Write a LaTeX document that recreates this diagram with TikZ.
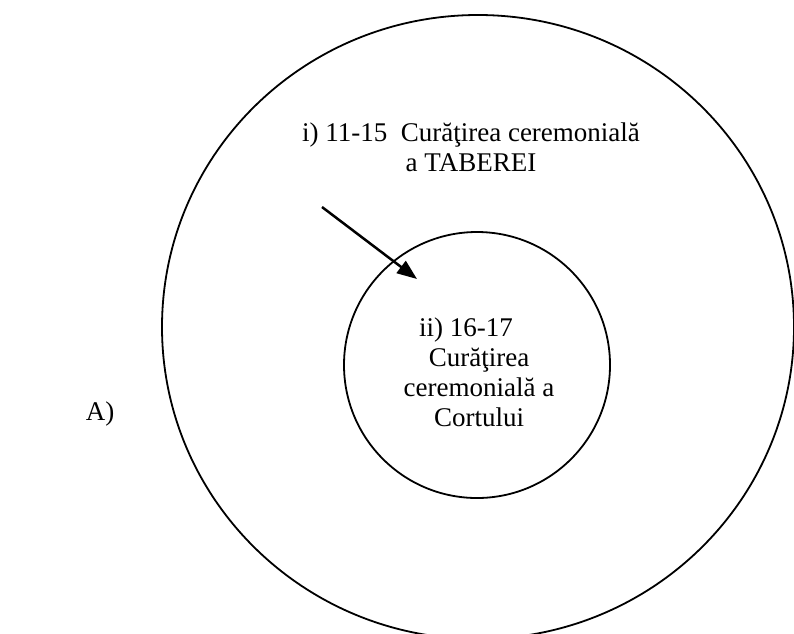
\documentclass[tikz,border=0pt]{standalone}
\usepackage{fontspec}
\setmainfont{Liberation Serif}
\usetikzlibrary{arrows.meta,shapes.geometric}
\begin{document}
\begin{tikzpicture}[x=1pt,y=-1pt,
  ring/.style={draw=black,line width=1.8pt,inner sep=0pt},
  lbl/.style={font=\fontsize{27}{30}\selectfont,align=center,inner sep=0pt},
  pointer/.style={line width=2.5pt,-{Triangle[length=20pt,width=15pt]}}]
\useasboundingbox (0,0) rectangle (794,633);
\node[ring,ellipse,minimum width=632pt,minimum height=624pt] (outer) at (478,327) {};
\node[ring,circle,minimum size=266pt] (inner) at (477,365) {};
\node[lbl] (t1) at (471,147) {i) 11-15\ \ Curăţirea ceremonială\\a TABEREI};
\node[lbl] (t2) at (479,372) {ii) 16-17\hspace*{26pt}\\Curăţirea\\ceremonială a\\Cortului};
\node[lbl] (A) at (100,414) {A)};
\coordinate (a1) at (322,207);
\coordinate (a2) at (417,279);
\draw[pointer] (a1) -- (a2);
\end{tikzpicture}
\end{document}
